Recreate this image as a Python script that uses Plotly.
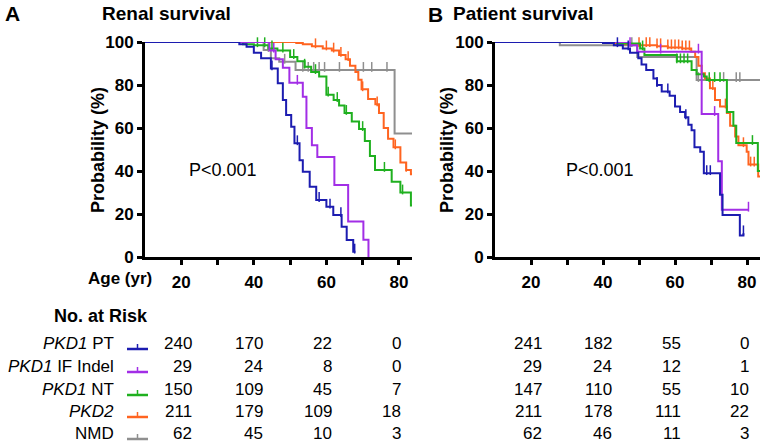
import plotly.graph_objects as go

W, H = 768, 442

series_names = ["<i>PKD1</i> PT", "<i>PKD1</i> IF Indel", "<i>PKD1</i> NT", "<i>PKD2</i>", "NMD"]
colors = ["#1c1cb0", "#a22ee6", "#1fb01f", "#ff6420", "#8f8f8f"]

# ---------------- Renal survival (panel A) ----------------
renal_pt_age = [10, 36, 38, 40, 42, 44.7, 46.6, 48, 48.9, 50.3, 51.2, 52.6, 53.5, 55.4, 57.2, 60, 61.9, 64.2, 65.6, 67.4, 68]
renal_pt_surv = [100, 99, 97.8, 95, 92.4, 87.7, 80.8, 73, 66, 60.6, 52.9, 45, 39.7, 32.7, 26.5, 23.4, 19.5, 14.1, 7.9, 2.5, 2.5]
renal_pt_cens = [30, 32, 34, 45, 52, 58, 61, 64, 67.8]

renal_if_age = [10, 44.3, 46, 48, 49.8, 53.5, 54.5, 56, 57.5, 62.2, 66, 70.2, 71.6]
renal_if_surv = [100, 96, 92, 88, 81, 74.5, 60, 52, 46.5, 33.5, 16.5, 8, 0]
renal_if_cens = [17.5, 18.5, 19.5, 20.5, 22, 23.5, 25.5, 27.5, 45.5, 52]

renal_nt_age = [10, 37, 40, 44, 46.5, 50, 52, 54, 55.8, 58, 60, 62, 63.5, 65, 67, 69, 70.6, 72, 73.4, 78, 80.4, 83.3, 83.6]
renal_nt_surv = [100, 99, 98.5, 97, 96, 93, 91, 88.5, 86, 84, 75.5, 73, 70.5, 67, 63, 59.5, 54, 47, 40.5, 35, 30, 24, 24]
renal_nt_cens = [13.2, 20.5, 24.5, 30, 31.5, 33, 35, 37, 39, 41, 43, 45, 48, 51, 54, 57, 60.5, 63, 65.5, 70, 76, 81]

renal_pkd2_age = [10, 51.7, 53.5, 56, 59, 61.5, 63.5, 65.3, 66.5, 68, 68.8, 69.7, 71.5, 73.5, 74.5, 75.8, 77, 78.5, 80.4, 82, 83.3, 83.6]
renal_pkd2_surv = [100, 99.5, 99, 98, 97, 96, 94, 92, 89, 86, 82.5, 78, 73.5, 71, 67, 60, 55, 51, 44, 40.5, 38.5, 38.5]
renal_pkd2_cens = [16, 17, 18, 19, 21, 22, 23, 24, 25, 26, 27, 28, 29, 30, 31, 32, 33, 34, 36, 38, 39, 40, 42, 43,
                   45, 46, 47, 48, 49, 50, 51, 55, 57, 60, 62, 64, 66, 70, 74, 79, 82]

renal_nmd_age = [10, 42.7, 44.7, 47, 51.5, 78.8, 83.6]
renal_nmd_surv = [100, 96.3, 92.4, 90.8, 87, 57.5, 57.5]
renal_nmd_cens = [44, 48.5, 53.5, 55, 56.5, 58, 59.5, 63.6, 70.2, 72.5, 76.7]

# ---------------- Patient survival (panel B) ----------------
pat_pt_age = [10, 40, 43, 45.5, 47.5, 49.8, 50.7, 52, 54, 55, 56.3, 58.5, 60, 61.4, 62.8, 63.7, 64.6, 65.4, 67, 68,
              72.5, 73.2, 78, 79]
pat_pt_surv = [100, 99.5, 98.5, 97, 95, 92.5, 89.5, 87, 83, 80, 77, 75, 70, 67.5, 65, 61.5, 59, 51, 49, 39,
               29, 19.5, 10, 11]
pat_pt_cens = [30, 33, 36, 44, 47, 55, 58, 63, 68.8, 69.8, 79]

pat_if_age = [10, 47.5, 49.5, 67.4, 72, 73, 80.4]
pat_if_surv = [100, 98.5, 95.5, 66.5, 44.5, 22, 22]
pat_if_cens = [17, 18, 19.5, 21, 23, 24.5, 46.5, 47.5, 56, 66.5, 71, 80.4]

pat_nt_age = [10, 44, 50.3, 51.5, 60.5, 64.6, 66, 68, 68.8, 74.4, 76.2, 77, 83, 83.6]
pat_nt_surv = [100, 99.3, 97, 94, 91, 87, 85, 84, 82.3, 67.5, 61, 53, 40, 40]
pat_nt_cens = [12.8, 20, 23, 29, 30, 31, 32, 33, 34, 35, 36, 37, 38, 39, 41, 43, 51, 60.5, 61.5, 62.5, 63.5,
               69.5, 71, 72.5, 81.5]

pat_pkd2_age = [10, 40, 46, 50, 55, 58, 62, 64.5, 65.6, 66.5, 67.4, 68.3, 69.7, 71.1, 72.5, 74.4, 75.3, 76.7, 77.6,
                79.9, 80.4, 83.1, 83.6]
pat_pkd2_surv = [100, 99.5, 99, 98.5, 98, 97.5, 97, 95.5, 93, 89, 85.5, 83, 78.5, 73, 70, 67, 61, 56, 52,
                 49, 43, 37.5, 37.5]
pat_pkd2_cens = [16, 17, 18, 19, 20, 21, 22, 23, 24, 25, 26, 27, 30, 31, 32, 34, 35, 36, 38, 40, 42, 44, 46, 48,
                 50, 52, 53, 55, 56, 58, 59, 60, 61, 62, 63, 64, 70.5, 74, 79, 81, 82]

pat_nmd_age = [10, 28, 49.5, 66, 83.6]
pat_nmd_surv = [100, 98.5, 93, 82.3, 82.3]
pat_nmd_cens = [48, 66.5, 73.5, 77, 78]

# ---------------- Numbers at risk ----------------
at_risk_ages = [20, 40, 60, 80]
renal_at_risk = [[240, 170, 22, 0], [29, 24, 8, 0], [150, 109, 45, 7], [211, 179, 109, 18], [62, 45, 10, 3]]
patient_at_risk = [[241, 182, 55, 0], [29, 24, 12, 1], [147, 110, 55, 10], [211, 178, 111, 22], [62, 46, 11, 3]]

x_ticks = [20, 30, 40, 50, 60, 70, 80]
x_ticktext = ["20", "", "40", "", "60", "", "80"]
y_ticks = [0, 20, 40, 60, 80, 100]

renal = [(renal_pt_age, renal_pt_surv, renal_pt_cens), (renal_if_age, renal_if_surv, renal_if_cens),
         (renal_nt_age, renal_nt_surv, renal_nt_cens), (renal_pkd2_age, renal_pkd2_surv, renal_pkd2_cens),
         (renal_nmd_age, renal_nmd_surv, renal_nmd_cens)]
patient = [(pat_pt_age, pat_pt_surv, pat_pt_cens), (pat_if_age, pat_if_surv, pat_if_cens),
           (pat_nt_age, pat_nt_surv, pat_nt_cens), (pat_pkd2_age, pat_pkd2_surv, pat_pkd2_cens),
           (pat_nmd_age, pat_nmd_surv, pat_nmd_cens)]


def surv_at(ages, surv, t):
    v = surv[0]
    for a, s in zip(ages, surv):
        if a <= t:
            v = s
    return v


FONT = "Arial, Liberation Sans, sans-serif"
fig = go.Figure()

# draw order: NMD, PKD2, NT, IF, PT (PT on top)
order = [4, 3, 2, 1, 0]
for panel, (data, xa, ya) in enumerate([(renal, "x", "y"), (patient, "x2", "y2")]):
    for i in order:
        ages, surv, cens = data[i]
        fig.add_trace(go.Scatter(x=ages, y=surv, mode="lines", line=dict(color=colors[i], width=2, shape="hv"),
                                 xaxis=xa, yaxis=ya, showlegend=False, cliponaxis=False, hoverinfo="skip"))
        cy = [surv_at(ages, surv, t) + 1.4 for t in cens]
        fig.add_trace(go.Scatter(x=cens, y=cy, mode="markers",
                                 marker=dict(symbol="line-ns", size=7, line=dict(color=colors[i], width=1.5)),
                                 xaxis=xa, yaxis=ya, showlegend=False, cliponaxis=False, hoverinfo="skip"))

ydom = [1 - 257 / H, 1 - 42 / H]
axis_common = dict(showline=True, linecolor="black", linewidth=2.8, ticks="outside", ticklen=5, tickwidth=2.5,
                   tickcolor="black", showgrid=False, zeroline=False, automargin=False,
                   tickfont=dict(family=FONT, size=17, color="black", weight="bold"))
fig.update_layout(
    width=W, height=H, margin=dict(l=0, r=0, t=0, b=0, pad=0, autoexpand=False),
    paper_bgcolor="white", plot_bgcolor="white",
    xaxis=dict(domain=[145 / W, 412 / W], range=[10, 83.6], tickvals=x_ticks, ticktext=x_ticktext,
               anchor="y", ticklabelstandoff=3, **axis_common),
    yaxis=dict(domain=ydom, range=[0, 100], tickvals=y_ticks, anchor="x", **axis_common),
    xaxis2=dict(domain=[495 / W, 760 / W], range=[10, 83.6], tickvals=x_ticks, ticktext=x_ticktext,
                anchor="y2", ticklabelstandoff=3, **axis_common),
    yaxis2=dict(domain=ydom, range=[0, 100], tickvals=y_ticks, anchor="x2", **axis_common),
)

ann = []


def txt(x, y, text, size=17, bold=False, xanchor="left", xref="paper", yref="paper", angle=0, xshift=0):
    ann.append(dict(x=x, y=y, xref=xref, yref=yref, text=text, showarrow=False, xanchor=xanchor, yanchor="middle",
                    textangle=angle, xshift=xshift,
                    font=dict(family=FONT, size=size, color="black", weight="bold" if bold else "normal")))


# Panel titles
txt(3 / W, 1 - 13 / H, "A", size=21, bold=True)
txt(100 / W, 1 - 13 / H, "Renal survival", size=19, bold=True)
txt(426 / W, 1 - 14 / H, "B", size=21, bold=True)
txt(451 / W, 1 - 13 / H, "Patient survival", size=19, bold=True)
# y axis titles
txt(98 / W, 1 - 150 / H, "Probability (%)", size=18, bold=True, xanchor="center", angle=-90)
txt(447 / W, 1 - 150 / H, "Probability (%)", size=18, bold=True, xanchor="center", angle=-90)
# x axis label
txt(154 / W, 1 - 278 / H, "Age (yr)", size=17, bold=True, xanchor="right")
# P values
txt(223 / W, 1 - 170 / H, "P<0.001", size=18, xanchor="center")
txt(600 / W, 1 - 170 / H, "P<0.001", size=18, xanchor="center")

# Number at risk table
txt(52 / W, 1 - 316 / H, "No. at Risk", size=18, bold=True)
row_y = [343, 366, 389, 411, 433]
col_shift = [13, 11, 8, 4]
shapes = []
for r in range(5):
    yp = 1 - row_y[r] / H
    txt(116 / W, yp, series_names[r], size=17, xanchor="right")
    ly = 1 - (row_y[r] + 6) / H
    shapes.append(dict(type="line", xref="paper", yref="paper", x0=127 / W, x1=148 / W, y0=ly, y1=ly,
                       line=dict(color=colors[r], width=2.5)))
    shapes.append(dict(type="line", xref="paper", yref="paper", x0=137.5 / W, x1=137.5 / W, y0=ly, y1=ly + 5 / H,
                       line=dict(color=colors[r], width=1.5)))
    for c, age in enumerate(at_risk_ages):
        txt(age, yp, str(renal_at_risk[r][c]), size=17, xanchor="right", xref="x", xshift=col_shift[c])
        txt(age, yp, str(patient_at_risk[r][c]), size=17, xanchor="right", xref="x2", xshift=col_shift[c])

fig.update_layout(annotations=ann, shapes=shapes)
fig.write_html("out.html", config={"displayModeBar": False},
               post_script="document.body.style.margin='0';document.body.style.overflow='hidden';")
